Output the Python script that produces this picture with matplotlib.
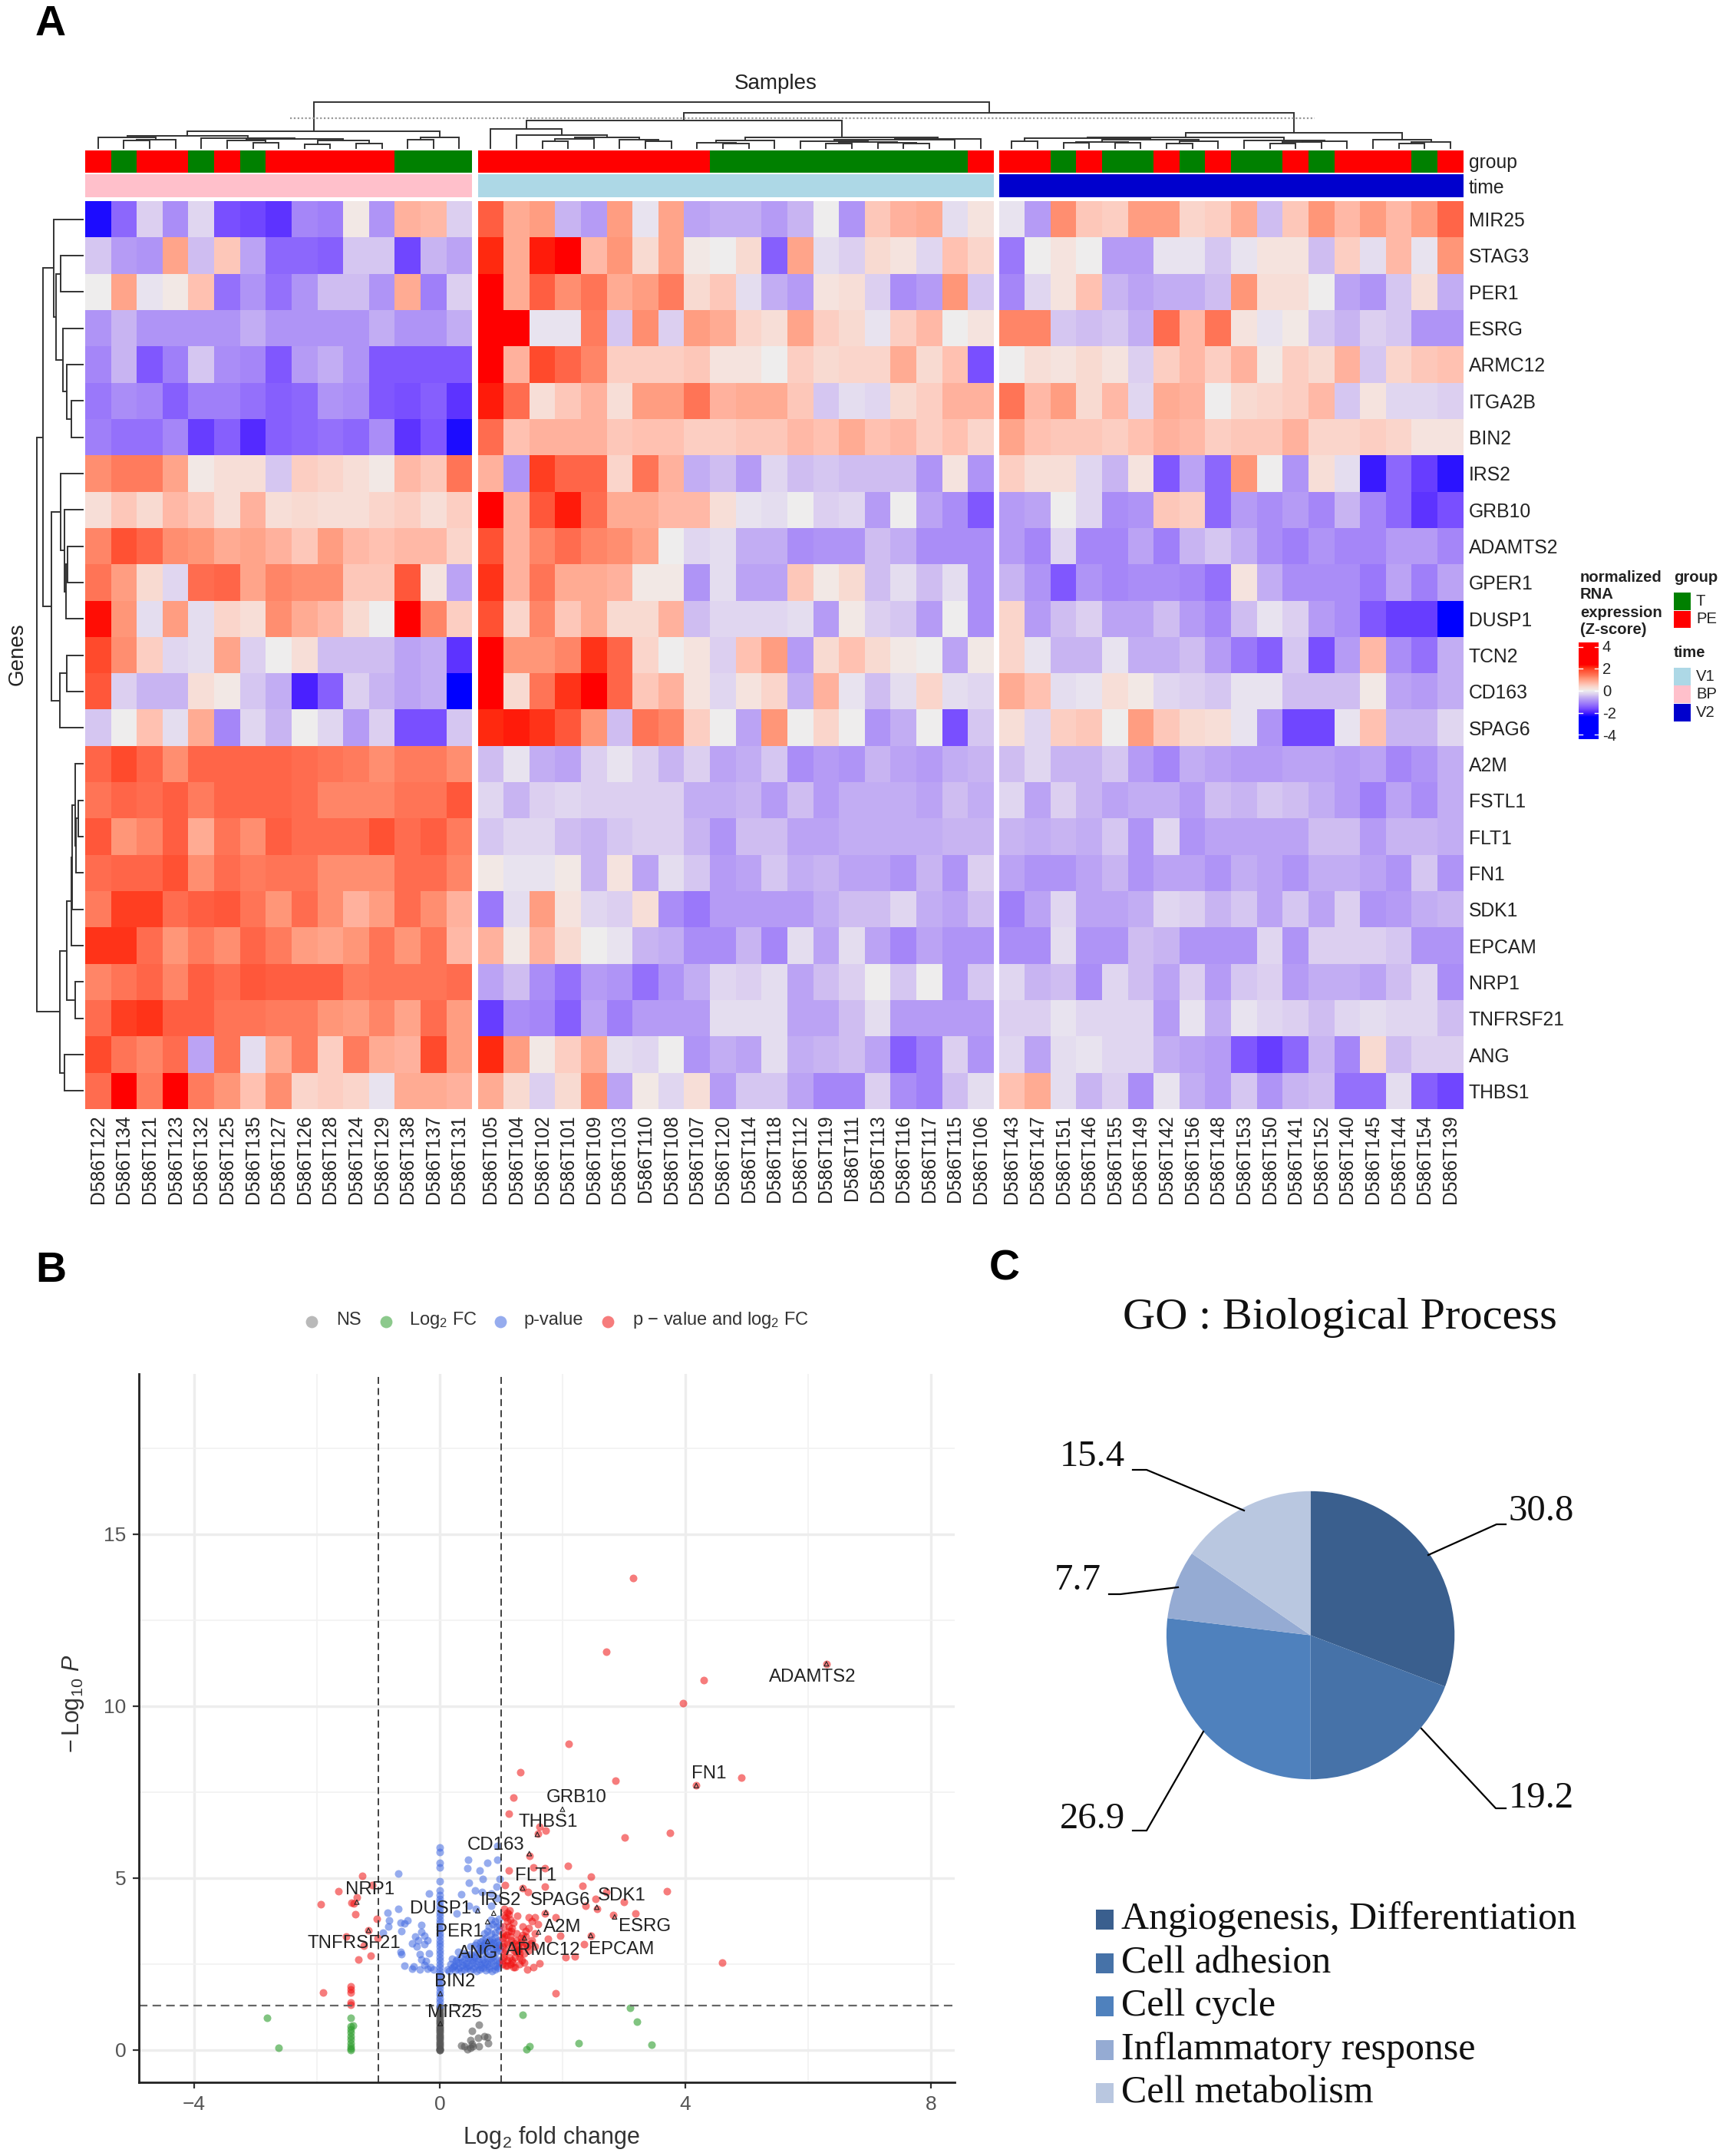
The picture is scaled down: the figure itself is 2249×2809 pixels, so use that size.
import matplotlib
matplotlib.use("Agg")
import matplotlib.pyplot as plt
import numpy as np
from matplotlib.colors import LinearSegmentedColormap, ListedColormap

plt.rcParams['font.family'] = ['Liberation Sans', 'DejaVu Sans']
plt.rcParams['mathtext.fontset'] = 'custom'
plt.rcParams['mathtext.rm'] = 'Liberation Sans'
plt.rcParams['mathtext.it'] = 'Liberation Sans:italic'
plt.rcParams['mathtext.bf'] = 'Liberation Sans:bold'

W, H = 2249, 2809
# ---------------- heatmap data ----------------
GENES = ["MIR25","STAG3","PER1","ESRG","ARMC12","ITGA2B","BIN2","IRS2","GRB10","ADAMTS2","GPER1","DUSP1","TCN2",
         "CD163","SPAG6","A2M","FSTL1","FLT1","FN1","SDK1","EPCAM","NRP1","TNFRSF21","ANG","THBS1"]
BP_SAMPLES = ["D586T122","D586T134","D586T121","D586T123","D586T132","D586T125","D586T135","D586T127","D586T126",
              "D586T128","D586T124","D586T129","D586T138","D586T137","D586T131"]
V1_SAMPLES = ["D586T105","D586T104","D586T102","D586T101","D586T109","D586T103","D586T110","D586T108","D586T107",
              "D586T120","D586T114","D586T118","D586T112","D586T119","D586T111","D586T113","D586T116","D586T117",
              "D586T115","D586T106"]
V2_SAMPLES = ["D586T143","D586T147","D586T151","D586T146","D586T155","D586T149","D586T142","D586T156","D586T148",
              "D586T153","D586T150","D586T141","D586T152","D586T140","D586T145","D586T144","D586T154","D586T139"]
BP_GROUP = "PTPPTPTPPPPPTTT"
V1_GROUP = "PPPPPPPPPTTTTTTTTTTP"
V2_GROUP = "PPTPTTPTPTTPTPPPTP"

BP_ROWS = [
[-2.8,-1.7,-0.4,-1.2,-0.3,-2.0,-2.1,-2.3,-1.3,-1.4,0.1,-1.1,1.0,0.9,-0.4],
[-0.5,-1.0,-1.1,1.2,-0.6,0.7,-0.9,-1.7,-1.7,-1.8,-0.5,-0.5,-2.1,-0.7,-0.9],
[0.0,1.2,-0.1,0.1,0.8,-1.6,-1.1,-1.6,-1.1,-0.6,-0.6,-1.1,1.1,-1.4,-0.4],
[-1.1,-0.7,-1.1,-1.1,-1.1,-1.1,-0.8,-1.1,-1.1,-1.1,-1.1,-0.8,-1.1,-1.1,-0.8],
[-1.3,-0.7,-1.9,-1.4,-0.5,-1.2,-1.3,-1.9,-1.0,-0.8,-1.1,-1.9,-1.9,-1.9,-1.9],
[-1.5,-1.2,-1.3,-1.8,-1.4,-1.4,-1.6,-1.8,-1.7,-1.1,-1.2,-1.9,-2.0,-1.8,-2.3],
[-1.4,-1.6,-1.6,-1.3,-2.2,-1.8,-2.4,-1.8,-1.7,-1.6,-1.7,-1.2,-2.3,-1.9,-2.8],
[1.5,1.7,1.7,1.2,0.1,0.3,0.3,-0.5,0.6,0.5,0.3,0.1,0.9,0.7,1.8],
[0.3,0.7,0.4,0.9,0.7,0.3,1.0,0.3,0.4,0.3,0.3,0.5,0.6,0.3,0.6],
[1.6,2.3,2.0,1.5,1.4,1.1,1.2,1.0,0.7,1.3,0.9,0.8,0.9,0.9,0.5],
[1.8,1.3,0.4,-0.3,1.9,2.0,1.2,1.6,1.5,1.5,0.7,0.7,2.2,0.2,-0.9],
[2.9,1.4,-0.2,1.3,-0.2,0.5,0.3,1.5,1.1,0.9,0.4,0.0,3.0,1.6,0.6],
[2.4,1.5,0.6,-0.3,-0.2,1.2,-0.4,0.0,0.3,-0.6,-0.6,-0.6,-0.9,-0.8,-2.3],
[2.2,-0.4,-0.7,-0.7,0.3,0.1,-0.5,-0.8,-2.5,-1.8,-0.4,-0.7,-0.9,-0.8,-3.0],
[-0.5,0.0,0.8,-0.2,1.1,-1.3,-0.3,-0.7,0.0,-0.3,-1.0,-0.4,-2.0,-2.0,-0.5],
[2.0,2.4,2.0,1.5,2.0,2.0,2.0,2.0,1.9,1.8,1.7,1.5,1.7,1.7,1.5],
[1.8,2.0,1.9,2.1,1.7,2.0,2.0,2.0,1.9,1.6,1.6,1.6,1.8,1.8,2.2],
[2.2,1.4,1.6,2.1,1.1,1.8,1.5,2.1,1.9,1.9,1.9,2.3,1.9,2.1,1.7],
[1.9,2.0,2.0,2.3,1.5,1.9,1.7,1.8,1.8,1.5,1.5,1.5,1.9,1.9,1.6],
[1.7,2.5,2.5,1.9,2.1,2.2,1.8,1.4,1.9,1.5,1.0,1.3,1.9,1.5,1.0],
[2.6,2.6,1.9,1.4,1.7,1.5,2.0,1.7,1.3,1.2,1.4,1.8,1.4,1.8,0.9],
[1.6,1.8,2.0,1.6,2.1,1.9,2.2,2.1,2.1,2.1,1.7,1.8,1.8,1.8,1.9],
[1.9,2.5,2.6,2.1,2.1,1.8,1.8,1.7,1.7,1.4,1.3,1.6,1.2,1.9,1.3],
[2.4,1.8,1.6,1.9,-0.9,1.8,-0.2,1.1,1.7,0.6,1.7,1.1,1.0,2.4,1.3],
[1.9,3.0,1.7,3.0,1.7,1.4,0.8,1.5,0.5,0.6,0.5,-0.1,1.1,1.1,1.0],
]
V1_ROWS = [
[2.1,1.1,1.3,-0.7,-1.0,1.3,-0.1,1.2,-0.9,-0.8,-0.8,-1.0,-0.7,0.0,-1.1,0.7,1.0,1.1,-0.2,0.2],
[2.7,1.1,2.8,3.0,0.9,1.4,0.4,1.2,0.1,0.0,0.4,-1.8,1.2,-0.2,-0.4,0.4,0.2,-0.3,0.8,0.5],
[3.0,1.1,2.1,1.5,1.8,1.1,1.3,1.7,0.4,0.7,-0.2,-0.8,-1.0,0.2,0.3,-0.4,-1.2,-1.0,1.4,-0.5],
[3.0,3.0,-0.1,-0.1,1.7,-0.5,1.5,-0.4,1.3,1.1,0.5,0.3,1.2,0.6,0.4,-0.1,0.6,0.9,0.0,0.2],
[3.0,1.0,2.4,2.0,1.6,0.6,0.6,0.6,0.7,0.2,0.2,0.0,0.6,0.4,0.5,0.5,1.1,0.4,0.8,-2.0],
[2.8,1.9,0.3,0.7,1.0,0.3,1.3,1.3,1.8,1.0,1.1,1.1,0.7,-0.5,-0.2,-0.3,0.4,0.6,1.0,1.0],
[1.9,0.8,1.0,1.0,1.0,0.7,0.8,0.8,0.6,0.6,0.7,0.7,0.9,0.8,1.1,0.8,0.9,0.6,0.8,0.5],
[1.0,-1.1,2.5,2.0,2.0,0.5,1.8,1.0,-0.8,-0.6,-1.0,-0.3,-0.6,-0.5,-0.6,-0.6,-0.6,-1.1,0.2,-1.1],
[3.0,1.0,2.2,2.8,1.9,1.1,1.1,0.9,0.9,0.3,-0.1,-0.2,0.0,-0.4,-0.3,-1.0,0.0,-0.9,-1.2,-1.9],
[2.3,1.0,1.6,1.9,1.6,1.5,1.2,0.0,-0.3,-0.2,-0.8,-0.8,-1.2,-1.1,-1.1,-0.6,-0.8,-1.2,-1.2,-1.2],
[2.6,1.0,1.8,1.1,1.1,1.0,0.1,0.1,-1.1,-0.2,-0.9,-0.9,0.7,0.1,0.4,-0.6,-0.2,-0.6,-0.2,-1.2],
[2.3,0.5,1.6,0.7,1.1,0.4,0.4,1.0,-0.6,-0.3,-0.3,-0.3,-0.2,-1.0,0.1,-0.4,-0.5,-1.0,0.0,-1.2],
[3.0,1.4,1.4,1.6,2.6,2.0,0.5,0.0,0.2,-0.4,0.8,1.3,-1.0,0.4,0.8,0.4,0.1,0.0,-0.9,0.1],
[3.0,0.4,1.8,2.6,3.0,2.0,0.7,1.0,0.2,-0.3,0.2,0.5,-0.8,1.0,-0.1,-0.6,-0.2,0.5,-0.2,-0.3],
[2.7,2.8,2.6,2.2,1.4,-0.6,1.8,1.6,0.6,0.0,-0.9,1.4,0.0,0.5,0.0,-1.1,-0.8,0.0,-2.0,-0.5],
[-0.6,-0.1,-0.8,-0.9,-0.4,-0.1,-0.4,-0.7,-0.4,-0.9,-0.8,-0.5,-1.2,-1.0,-1.1,-0.7,-0.9,-1.0,-0.8,-0.7],
[-0.3,-0.7,-0.4,-0.3,-0.4,-0.4,-0.4,-0.4,-0.8,-0.8,-0.7,-1.0,-0.6,-1.0,-0.8,-0.8,-0.8,-0.9,-0.6,-0.8],
[-0.5,-0.3,-0.3,-0.6,-0.7,-0.5,-0.4,-0.4,-0.7,-1.1,-0.6,-0.6,-0.9,-0.9,-0.8,-0.8,-0.8,-0.8,-0.7,-0.7],
[0.1,-0.1,-0.1,0.1,-0.7,0.2,-0.9,-0.2,-0.5,-1.0,-0.9,-0.5,-0.8,-0.7,-0.9,-0.9,-1.1,-0.7,-1.1,-0.4],
[-1.5,-0.2,1.3,0.2,-0.3,-0.4,0.3,-1.2,-1.5,-1.0,-1.0,-1.0,-1.0,-0.8,-0.6,-0.6,-0.3,-0.8,-0.9,-0.6],
[1.0,0.1,1.0,0.4,0.0,-0.1,-0.7,-0.8,-1.2,-1.2,-0.7,-1.3,-0.2,-0.9,-0.2,-0.9,-1.3,-0.9,-1.1,-1.1],
[-0.9,-0.6,-1.2,-1.6,-1.0,-1.1,-1.6,-1.1,-0.8,-0.3,-0.4,-0.2,-0.9,-0.6,-0.4,0.0,-0.5,0.0,-1.1,-0.5],
[-2.2,-1.2,-1.3,-1.8,-0.9,-1.4,-1.0,-1.0,-1.0,-0.2,-0.2,-0.2,-0.9,-0.9,-0.6,-0.2,-1.0,-1.0,-1.0,-1.0],
[2.7,1.3,0.1,0.6,1.1,-0.2,-0.3,0.0,-1.1,-0.8,-0.9,-0.2,-0.8,-0.7,-0.6,-0.9,-1.8,-1.4,-0.4,-1.1],
[1.1,0.4,-0.4,0.4,1.5,-0.9,0.1,-0.3,0.3,-1.0,-0.5,-0.5,-0.9,-1.3,-1.3,-0.4,-1.2,-1.4,-0.6,-0.2],
]
V2_ROWS = [
[-0.1,-1.0,1.5,0.7,0.6,1.3,1.3,0.5,0.6,1.1,-0.6,0.7,1.4,0.9,1.3,0.9,1.3,2.0],
[-1.5,0.0,0.2,0.0,-1.0,-1.0,-0.1,-0.1,-0.5,-0.1,0.2,0.2,-0.6,0.6,-0.2,0.9,-0.1,1.4],
[-1.3,-0.3,0.2,0.8,-0.7,-0.9,-0.8,-0.8,-0.6,1.4,0.3,0.3,0.0,-0.9,-1.1,-0.5,0.3,-0.8],
[1.6,1.6,-0.5,-0.6,-0.5,-0.8,1.9,0.9,1.8,0.2,-0.1,0.1,-0.5,-0.7,-0.4,-0.5,-1.1,-1.1],
[0.0,0.3,0.2,0.4,0.2,-0.4,0.6,0.9,0.6,1.0,0.1,0.6,0.4,1.0,-0.5,0.5,0.7,0.8],
[1.8,0.9,1.3,0.4,0.9,-0.3,1.1,1.0,0.0,0.4,0.5,0.6,0.9,-0.5,0.2,-0.3,-0.3,-0.4],
[1.2,0.8,0.7,0.7,0.6,0.8,1.0,0.9,0.6,0.7,0.7,1.0,0.5,0.5,0.6,0.5,0.2,0.2],
[0.6,0.3,0.3,-0.3,-0.7,0.2,-1.9,-0.9,-1.7,1.4,0.0,-1.1,0.3,-0.2,-2.6,-1.7,-2.2,-2.7],
[-1.0,-0.9,0.0,-0.3,-1.2,-1.1,0.7,0.6,-1.7,-1.0,-1.2,-1.0,-1.3,-0.7,-1.3,-1.7,-2.3,-2.0],
[-1.0,-1.3,-0.3,-1.3,-1.3,-0.9,-1.4,-0.7,-0.5,-0.8,-1.2,-1.4,-1.1,-1.3,-1.3,-1.0,-1.0,-1.3],
[-0.7,-1.1,-1.9,-1.1,-1.3,-1.2,-1.2,-1.3,-1.6,0.2,-0.8,-1.2,-1.2,-1.2,-1.5,-0.9,-1.4,-0.9],
[0.5,-1.0,-0.6,-0.4,-0.9,-0.9,-0.6,-1.0,-1.3,-0.6,-0.1,-0.4,-1.0,-1.2,-1.9,-2.2,-2.2,-3.0],
[0.5,-0.1,-0.7,-0.7,-0.1,-0.8,-0.8,-0.6,-1.0,-1.5,-1.8,-0.5,-2.0,-1.0,0.9,-1.2,-1.6,-0.8],
[1.1,0.8,-0.2,-0.1,0.3,0.1,-0.3,-0.4,-0.5,-0.1,-0.1,-0.6,-0.6,-0.6,0.1,-0.9,-1.0,-0.8],
[0.3,-0.3,0.6,0.7,0.0,1.3,0.7,0.4,0.3,-0.1,-1.1,-2.1,-2.1,-0.1,0.8,-0.7,-0.7,-0.3],
[-0.6,-0.3,-0.7,-0.7,-0.5,-1.0,-1.3,-0.8,-0.9,-1.0,-1.0,-0.9,-0.9,-1.0,-0.9,-1.3,-1.1,-0.8],
[-0.3,-0.9,-0.4,-0.7,-0.9,-0.8,-0.8,-1.0,-0.6,-0.7,-0.5,-0.6,-0.8,-1.0,-1.4,-0.9,-1.2,-0.8],
[-0.7,-0.8,-0.7,-0.8,-0.5,-1.1,-0.3,-1.1,-0.9,-0.9,-0.9,-0.9,-0.6,-0.6,-1.0,-0.7,-0.7,-0.8],
[-0.9,-1.1,-1.1,-0.9,-0.7,-1.1,-0.9,-0.9,-1.1,-0.8,-0.9,-1.1,-0.8,-0.8,-0.9,-1.1,-0.5,-1.1],
[-1.4,-0.9,-0.3,-0.9,-0.9,-0.8,-0.3,-0.4,-0.7,-0.5,-0.9,-0.5,-0.9,-0.4,-1.1,-1.0,-0.8,-0.7],
[-1.2,-1.2,-0.2,-1.1,-1.1,-0.6,-0.7,-1.1,-1.1,-1.1,-0.3,-1.1,-0.4,-0.4,-0.4,-0.5,-1.1,-1.1],
[-0.3,-0.7,-0.6,-1.2,-0.3,-0.6,-0.9,-0.4,-1.0,-0.5,-0.4,-1.0,-0.8,-0.8,-0.9,-0.6,-0.3,-1.2],
[-0.4,-0.4,-0.1,-0.3,-0.3,-0.3,-1.0,-0.1,-0.8,-0.1,-0.3,-0.4,-0.6,-0.3,-0.2,-0.3,-0.3,-0.6],
[-0.3,-0.9,-0.2,-0.1,-0.3,-0.3,-0.8,-0.9,-1.0,-1.9,-2.2,-1.7,-0.7,-1.3,0.4,-0.6,-0.4,-0.4],
[0.8,1.1,-0.2,-0.7,-0.4,-1.2,-0.1,-0.8,-1.0,-0.5,-1.1,-0.7,-0.6,-1.6,-1.6,-0.2,-1.8,-2.1],
]
Z_FACTOR = 0.8  # colour-read values to legend units

# dendrogram merges: (height, left, right); leaves are sample or gene indices
TREE_BP = (153, (170, (176, 0, (186, (190, 1, 2), 3)),
                 (179, 4, (184, (190, 5, (198, 6, 7)), (190, (203, 8, 9), (201, 10, 11))))),
           (176, (185, 12, 13), 14))
TREE_V1 = (110, (145, 0, (168, 1, (176, (183, (193, 2, 3), 4), (185, 5, (193, 6, 7))))),
           (176, (189, (198, 8, (202, 9, 10)), 11),
            (182, (185, (192, 12, (195, (202, 13, 14), (197, 15, (201, 16, 17)))), 18), 19)))
TREE_V2 = (160, (177, (181, (193, 0, 1), (186, (195, (199, 2, 3), (197, 4, 5)), (193, (200, 6, 7), 8))),
                 (189, 9, (191, (194, (200, 10, 11), 12), 13))),
           (187, 14, (195, (200, 15, 16), 17)))
ROOT_HEIGHTS = (40, 82)
TREE_GENES = (55, (78, (121, 0, (128, (147, 1, 2), (155, 3, (170, 4, (190, 5, 6))))),
                   (110, (147, 7, (162, 8, (167, (175, 9, 10), 11))), (145, (170, 12, 13), 14))),
              (145, (172, (190, (192, (205, 15, (208, (215, 16, 17), 18)), 19), 20), (204, 21, 22)), (162, 23, 24)))

# ---------------- volcano data ----------------
RED_X = [3.96,2.10,1.31,2.87,1.20,1.12,3.75,3.02,1.73,1.63,1.6,1.46,1.53,1.71,2.09,1.12,2.47,1.06,1.71,2.33,1.35,1.44,3.7,3.0,
         2.54,2.56,2.38,2.72,3.19,2.83,1.89,1.71,2.47,1.76,1.96,2.35,2.2,2.05,1.63,1.53,1.43,1.89,4.6,4.92,4.3,2.72,3.15,4.18,6.3,
         1.05,1.1,1.15,1.2,1.25,1.3,1.35,1.4,1.1,1.05,1.15,1.2,1.3,1.25,1.35,1.4,1.5,1.45,1.55,1.05,1.08,1.02,1.02,1.02,1.12,1.22,1.18,1.32,1.28,
         1.05,1.1,1.15,1.12,1.18,1.1,1.35,1.45,1.5,1.55,1.4,1.6,1.45,1.55,
         1.03,1.07,1.14,1.19,1.24,1.29,1.34,1.03,1.09,1.16,1.21,1.27,1.33,1.38,1.04,1.1,1.17,1.23,1.3,1.37,1.43,1.49,1.04,1.08,1.14,1.2,1.26,1.05,1.12,1.16,
         -1.26,-1.1,-1.65,-1.94,-1.44,-1.35,-1.37,-1.02,-1.16,-1.53,-1.01,-1.24,-1.12,-1.32,-1.9,-1.45,-1.45,-1.45,-1.45,-1.45,-1.4]
RED_Y = [10.09,8.91,8.07,7.83,7.34,6.87,6.32,6.18,6.38,6.5,6.29,5.64,5.3,5.28,5.36,5.22,5.04,4.8,4.76,4.77,4.71,4.6,4.61,4.3,
         4.4,4.11,4.19,4.6,3.97,3.93,3.85,3.97,3.33,3.24,3.33,3.07,2.72,2.7,2.51,2.4,2.33,1.64,2.54,7.91,10.76,11.57,13.73,7.69,11.23,
         3.3,3.1,3.3,2.9,3.2,2.7,3.0,3.3,2.6,2.8,2.5,2.4,2.5,3.4,3.35,3.1,3.2,2.9,3.0,3.1,2.45,2.6,3.4,3.0,3.45,2.7,3.05,3.15,2.9,
         3.9,4.0,3.8,3.6,3.55,3.75,3.6,3.55,3.75,3.4,3.45,3.65,3.85,3.85,
         2.5,2.9,2.7,2.55,2.85,2.95,2.6,3.25,3.35,3.2,3.1,3.05,3.25,2.8,2.7,2.45,2.6,2.4,2.8,2.55,3.0,3.1,3.6,3.85,4.05,3.7,3.9,4.1,3.95,3.45,
         5.06,4.8,4.61,4.24,4.28,4.43,3.95,3.82,3.48,3.3,3.26,3.04,2.74,2.63,1.67,1.85,1.77,1.67,1.38,1.32,4.25]
GREEN_X = [-2.81,-2.62,-1.45,-1.45,-1.45,-1.45,-1.45,-1.45,-1.45,-1.45,-1.45,-1.45,-1.41,1.35,1.46,1.41,2.26,3.1,3.22,3.45]
GREEN_Y = [0.94,0.07,0.94,0.7,0.6,0.5,0.4,0.3,0.2,0.1,0.05,0.0,0.71,1.03,0.12,0.02,0.19,1.22,0.83,0.15]
GREY_X = [0,0,0,0,0,0,0,0,0,0,0,0,0,0,0,0,0,0,0,0,0,0,0,0,0,0,0,0,0.64,0.52,0.35,0.45,0.5,0.52,0.64,0.79,0.72,0.62,0.77,0.5,0.4,0.54]
GREY_Y = [0,0.1,0.2,0.3,0.4,0.5,0.6,0.7,0.8,0.9,1.0,1.1,1.2,1.25,0,0.05,0.15,0.25,0.35,0.45,0.55,0.65,0.75,0.85,0.95,1.05,1.15,0.02,0.73,0.56,0.13,0.01,0.28,0.17,0.1,0.19,0.39,0.36,0.38,0.06,0.1,0.1]
BLUE_X = [-.68,.46,.94,.77,.45,.65,.94,.98,.7,.48,.92,.57,.69,.35,-.18,.84,-.68,-.85,.47,.59,.27,.84,.94,-.82,-.64,-.52,-.57,-.84,-.63,-.3,
          -.92,-.3,-.25,-.4,-.45,-.35,-.25,-.2,-.37,-.32,-.17,-.63,-.64,-.3,-.58,-.45,-.42,-.32,-.25,-.15,-.2,-.1,-.22,
          0,0,0,0,0,0,0,0,0,0,0,0,0,0,0,0,0,0,0,0,0,0,0,
          0,0,0,0,0,0,0,0,0,0,0,0,0,0,0,0,
          .12,.15,.2,.25,.3,.35,.4,.45,.5,.55,.6,.65,.7,.75,.8,.85,.9,.95,
          .18,.24,.3,.36,.42,.48,.54,.6,.66,.72,.78,.84,.9,.96,
          .2,.28,.34,.4,.46,.52,.58,.64,.7,.76,.82,.88,.94,
          .3,.4,.5,.6,.68,.74,.8,.86,.92,.98,.5,.58,.66,.72,.78,.84,.9,.96,
          .7,.75,.8,.85,.9,.95,.72,.78,.84,.9,.96,.8,.86,.92,.98,.84,.9,.96,
          .22,.32,.44,.56,.68,.8,.92,.26,.38,.5,.62,.74,.86,.98,.44,.56,.62,.68,.74,.86,.92,.98,.6,.66,.72,.82,.88,.94]
BLUE_Y = [5.13,5.54,5.54,5.45,5.28,5.22,5.94,4.97,4.97,4.86,4.75,4.64,4.6,4.52,4.56,4.56,4.11,4.0,4.19,4.11,3.97,4.19,4.41,3.76,3.7,3.76,3.67,3.6,3.46,3.63,
          3.41,3.44,3.33,3.3,3.11,3.18,3.07,3.18,3.0,2.78,2.81,2.78,2.85,2.63,2.46,2.37,2.44,2.34,2.48,2.4,2.37,2.33,2.59,
          1.3,1.5,1.7,1.9,2.1,2.3,2.5,2.7,2.9,3.1,3.3,3.5,3.7,3.9,4.1,4.3,4.5,4.65,4.9,5.3,5.45,5.75,5.9,
          1.4,1.6,1.8,2.0,2.2,2.4,2.6,2.8,3.0,3.2,3.4,3.6,3.8,4.0,4.2,4.4,
          2.35,2.3,2.38,2.32,2.36,2.3,2.34,2.38,2.32,2.36,2.3,2.34,2.38,2.32,2.36,2.3,2.34,2.38,
          2.5,2.45,2.55,2.48,2.52,2.46,2.54,2.5,2.47,2.53,2.49,2.55,2.46,2.52,
          2.65,2.62,2.7,2.64,2.68,2.62,2.7,2.66,2.63,2.69,2.65,2.71,2.64,
          2.85,2.8,2.78,2.84,2.9,2.82,2.88,2.8,2.86,2.9,3.0,3.05,3.0,3.06,3.02,3.08,3.0,3.05,
          3.2,3.25,3.18,3.22,3.28,3.2,3.4,3.45,3.38,3.42,3.48,3.6,3.65,3.58,3.62,3.8,3.75,3.82,
          2.42,2.4,2.44,2.42,2.4,2.44,2.42,2.58,2.56,2.6,2.58,2.56,2.6,2.58,2.76,2.74,2.94,2.92,2.96,2.94,2.96,2.98,3.12,3.14,3.1,3.14,3.12,3.15]
LABELS = ["ADAMTS2","FN1","GRB10","THBS1","CD163","FLT1","NRP1","SDK1","SPAG6","IRS2","DUSP1","ESRG","A2M","PER1","TNFRSF21","ANG","ARMC12","EPCAM","BIN2","MIR25"]
LABEL_TX = [6.07,4.39,2.23,1.76,.92,1.56,-1.14,2.97,1.96,.99,.02,3.34,2.0,.32,-1.4,.62,1.68,2.96,.25,.24]
LABEL_TY = [10.85,8.03,7.33,6.62,5.96,5.06,4.67,4.49,4.34,4.34,4.11,3.59,3.56,3.44,3.1,2.81,2.89,2.92,1.98,1.1]
LABEL_PX = [6.3,4.18,2.0,1.59,1.46,1.35,-1.35,2.56,1.73,.88,.62,2.85,1.61,.78,-1.16,.78,1.38,2.46,.01,.01]
LABEL_PY = [11.23,7.69,7.0,6.27,5.71,4.71,4.3,4.15,4.0,3.98,4.05,3.87,3.43,3.73,3.48,3.16,3.26,3.33,1.64,.77]

# ---------------- pie data ----------------
PIE_NAMES = ["Angiogenesis, Differentiation","Cell adhesion","Cell cycle","Inflammatory response","Cell metabolism"]
PIE_VALUES = [30.8,19.2,26.9,7.7,15.4]
PIE_COLORS = ["#3A5F8E","#4672A8","#4F81BD","#95ABD3","#B9C7E0"]

# ---------------- figure ----------------
fig = plt.figure(figsize=(W/100, H/100), dpi=100, facecolor='white')

def ax_px(l, t, r, b, **kw):
    return fig.add_axes([l/W, 1-b/H, (r-l)/W, (b-t)/H], **kw)

ov = ax_px(0, 0, W, H)
ov.set_xlim(0, W); ov.set_ylim(H, 0); ov.axis('off'); ov.set_zorder(5); ov.patch.set_alpha(0)

anchors = [(-3.0,'#0000ff'),(-2.5,'#4a20ff'),(-2.0,'#7a50ff'),(-1.5,'#9a78fa'),(-1.0,'#b59cf5'),(-0.7,'#c8b4f2'),
           (-0.4,'#dccff0'),(-0.1,'#e8e4ef'),(0,'#eeeeee'),(0.2,'#f5e3de'),(0.5,'#fad5cb'),(0.8,'#ffc0b0'),(1.1,'#ffab94'),
           (1.4,'#ff9678'),(1.7,'#ff7c5e'),(2.0,'#ff6548'),(2.4,'#ff4a2c'),(2.7,'#ff2a10'),(3.0,'#ff0000')]
VLIM = 4.0
stops = [(-VLIM, '#0000ff')] + [(a*Z_FACTOR, c) for a, c in anchors] + [(VLIM, '#ff0000')]
cmap = LinearSegmentedColormap.from_list('z', [((v+VLIM)/(2*VLIM), c) for v, c in stops], N=512)
group_cmap = ListedColormap(['#008000', '#ff0000'])

HEAT_T, ROW_H = 262.0, 47.32
HEAT_B = HEAT_T + ROW_H*len(GENES)
CELL = 33.62
GROUP_T, GROUP_B = 196, 224.5
TIME_T, TIME_B = 227, 256.5
blocks = [(111.0, BP_SAMPLES, BP_ROWS, BP_GROUP, '#FFC0CB'),
          (622.5, V1_SAMPLES, V1_ROWS, V1_GROUP, '#ADD8E6'),
          (1301.5, V2_SAMPLES, V2_ROWS, V2_GROUP, '#0000CD')]
leaf_x = []
for left, samples, rows, grp, tcol in blocks:
    n = len(samples)
    right = left + CELL*n
    a = ax_px(left, HEAT_T, right, HEAT_B)
    a.pcolormesh(np.array(rows)*Z_FACTOR, cmap=cmap, vmin=-VLIM, vmax=VLIM, rasterized=True)
    a.set_ylim(len(GENES), 0); a.axis('off')
    g = ax_px(left, GROUP_T, right, GROUP_B)
    g.pcolormesh([[1 if c == 'P' else 0 for c in grp]], cmap=group_cmap, vmin=0, vmax=1); g.axis('off')
    t = ax_px(left, TIME_T, right, TIME_B)
    t.set_facecolor(tcol); t.set_xticks([]); t.set_yticks([])
    for s in t.spines.values(): s.set_visible(False)
    for i, name in enumerate(samples):
        x = left + CELL*(i+.5)
        leaf_x.append(x)
        ov.text(x, 1452, name, rotation=90, ha='center', va='top', fontsize=17.8, color='#222222')

for i, gname in enumerate(GENES):
    ov.text(1914, HEAT_T+ROW_H*(i+.5)+2.5, gname, ha='left', va='center', fontsize=17.8, color='#222222')
ov.text(1914, 212.5, 'group', ha='left', va='center', fontsize=17.8, color='#222222')
ov.text(1914, 245, 'time', ha='left', va='center', fontsize=17.8, color='#222222')
ov.text(1011, 109, 'Samples', ha='center', va='center', fontsize=20, color='#222222')
ov.text(23, 852, 'Genes', rotation=90, ha='center', va='center', fontsize=20, color='#222222')

# dendrograms
def shift(tree, off):
    if isinstance(tree, int):
        return tree + off
    return (tree[0], shift(tree[1], off), shift(tree[2], off))

DCOL = '#333333'
def draw_top(node):
    if isinstance(node, int):
        return leaf_x[node], 218
    z, l, r = node
    xl, zl = draw_top(l); xr, zr = draw_top(r)
    Y = lambda v: 120 + v/3
    ov.plot([xl, xl, xr, xr], [Y(zl), Y(z), Y(z), Y(zr)], color=DCOL, lw=1.4, solid_joinstyle='miter')
    return (xl+xr)/2, z

def draw_left(node):
    if isinstance(node, int):
        return HEAT_T + ROW_H*(node+.5), 234
    d, t, b = node
    yt, dt = draw_left(t); yb, db = draw_left(b)
    X = lambda v: 30 + v/3
    ov.plot([X(dt), X(d), X(d), X(db)], [yt, yt, yb, yb], color=DCOL, lw=1.4, solid_joinstyle='miter')
    return (yt+yb)/2, d

root = (ROOT_HEIGHTS[0], shift(TREE_BP, 0), (ROOT_HEIGHTS[1], shift(TREE_V1, 15), shift(TREE_V2, 35)))
draw_top(root)
draw_left(TREE_GENES)
ov.plot([378, 1713], [154, 154], color='#999999', lw=1.6, ls=(0, (1, 1.2)))

# heat legend
for txt, y in zip(['normalized', 'RNA', 'expression', '(Z-score)'], [753, 775, 798, 821]):
    ov.text(2059, y, txt, fontweight='bold', fontsize=14.6, ha='left', va='center', color='#222222')
cb = ax_px(2057, 837, 2083, 963)
grad = np.linspace(4.4, -4.4, 256).reshape(-1, 1)
cb.imshow(grad, cmap=cmap, vmin=-VLIM, vmax=VLIM, aspect='auto', extent=[0, 1, -4.4, 4.4])
cb.axis('off')
for v in [4, 2, 0, -2, -4]:
    cb.plot([0, .2], [v, v], color='white', lw=1); cb.plot([.8, 1], [v, v], color='white', lw=1)
    ov.text(2088, 901.5-14.4*v, str(v), fontsize=14.6, ha='left', va='center', color='#222222')
cb.set_xlim(0, 1); cb.set_ylim(-4.4, 4.4)
ov.text(2181, 753, 'group', fontweight='bold', fontsize=14.6, ha='left', va='center', color='#222222')
ov.text(2181, 850, 'time', fontweight='bold', fontsize=14.6, ha='left', va='center', color='#222222')
for lab, col, y0 in [('T', '#008000', 772), ('PE', '#ff0000', 795.5), ('V1', '#ADD8E6', 870), ('BP', '#FFC0CB', 893.5), ('V2', '#0000CD', 917)]:
    p = ax_px(2181, y0, 2203, y0+22.5)
    p.set_facecolor(col); p.set_xticks([]); p.set_yticks([])
    for s in p.spines.values(): s.set_visible(False)
    ov.text(2210, y0+11.5, lab, fontsize=14.6, ha='left', va='center', color='#222222')

# panel letters
for s, x, y in [('A', 66, 32), ('B', 66, 1656), ('C', 1309, 1654)]:
    ov.text(x, y, s, fontsize=40, fontweight='bold', ha='center', va='center', color='black')

# ---------------- volcano ----------------
vx = ax_px(181, 1790, 1244, 2713)
vx.set_xlim(-4.9, 8.39); vx.set_ylim(-0.94, 19.66)
for sp in ['top', 'right']:
    vx.spines[sp].set_visible(False)
for sp in ['left', 'bottom']:
    vx.spines[sp].set_linewidth(2.0); vx.spines[sp].set_color('#222222')
vx.set_xticks([-4, 0, 4, 8]); vx.set_yticks([0, 5, 10, 15])
vx.set_xticks([-2, 2, 6], minor=True); vx.set_yticks([2.5, 7.5, 12.5, 17.5], minor=True)
vx.grid(which='major', color='#ededed', lw=2.4); vx.grid(which='minor', color='#f2f2f2', lw=1.3)
vx.tick_params(which='minor', length=0)
vx.tick_params(which='major', labelsize=19, colors='#555555', length=6, width=1.6, pad=6, color='#333333')
vx.set_axisbelow(True)
MS = 52
vx.scatter(GREY_X, GREY_Y, s=MS, color='#555555', alpha=.6, lw=0)
vx.scatter(GREEN_X, GREEN_Y, s=MS, color='#2e9e2e', alpha=.6, lw=0)
vx.scatter(BLUE_X, BLUE_Y, s=MS, color='#4169E1', alpha=.55, lw=0)
vx.scatter(RED_X, RED_Y, s=MS, color='#f01010', alpha=.55, lw=0)
for v in [-1, 1]:
    vx.axvline(v, color='#333333', lw=1.3, ls=(0, (5, 3)))
vx.axhline(1.3, color='#666666', lw=1.6, ls=(0, (5, 3)))
vx.scatter(LABEL_PX, LABEL_PY, s=18, marker='^', facecolors='none', edgecolors='#222222', lw=.8, zorder=4)
for n, tx, ty in zip(LABELS, LABEL_TX, LABEL_TY):
    vx.text(tx, ty, n, fontsize=17.3, ha='center', va='center', color='#222222', zorder=5)
ov.text(718, 2785, r'$\mathregular{Log_2}$ fold change', fontsize=22, ha='center', va='center', color='#333333')
ov.text(95, 2220, r'$-\,\mathregular{Log_{10}}\ \mathit{P}$', fontsize=22, rotation=90, ha='center', va='center', color='#333333')

LEG = [('NS', '#808080', 406, 438), (r'$\mathregular{Log_2}$ FC', '#2e9e2e', 503, 533), ('p-value', '#4169E1', 652, 682),
       (r'p $-$ value and $\mathregular{log_2}$ FC', '#f01010', 792, 824)]
for txt, c, cx, tx in LEG:
    ov.scatter([cx], [1722], s=130, color=c, alpha=.55, lw=0)
    ov.text(tx, 1720, txt, fontsize=17, ha='left', va='center', color='#333333')

# ---------------- pie ----------------
R = 187.7
pcx, pcy = 1707.6, 2130.5
pa = ax_px(pcx-R, pcy-R, pcx+R, pcy+R)
pa.pie(PIE_VALUES, colors=PIE_COLORS, startangle=90, counterclock=False, radius=1.0)
pa.set_xlim(-1, 1); pa.set_ylim(-1, 1)
ov.text(1746, 1717, 'GO : Biological Process', family='Liberation Serif', fontsize=42, ha='center', va='center', color='#111111')
PIE_LEADERS = [((1861, 2026), (1950, 1986), (1962, 1986), 1969, 1970, 'left'),
               ((1852, 2252), (1949, 2356), (1962, 2356), 1969, 2344, 'left'),
               ((1568, 2256), (1494, 2385), (1476, 2385), 1469, 2371, 'right'),
               ((1535, 2068), (1460, 2077), (1445, 2077), 1438, 2060, 'right'),
               ((1621, 1968), (1494, 1915), (1476, 1915), 1469, 1899, 'right')]
for val, (p0, p1, p2, tx, ty, ha) in zip(PIE_VALUES, PIE_LEADERS):
    ov.plot([p0[0], p1[0], p2[0]], [p0[1], p1[1], p2[1]], color='black', lw=1.6)
    ov.text(tx-3, ty-1, str(val), family='Liberation Serif', fontsize=35, ha=ha, va='center', color='#111111')
for name, col, y in zip(PIE_NAMES, PIE_COLORS, [2501, 2558, 2614, 2671, 2727]):
    p = ax_px(1428, y-13, 1451, y+13)
    p.set_facecolor(col); p.set_xticks([]); p.set_yticks([])
    for s in p.spines.values(): s.set_visible(False)
    ov.text(1461, y, name, family='Liberation Serif', fontsize=36, ha='left', va='center', color='#111111')

fig.savefig('out.png', dpi=100, facecolor='white')
